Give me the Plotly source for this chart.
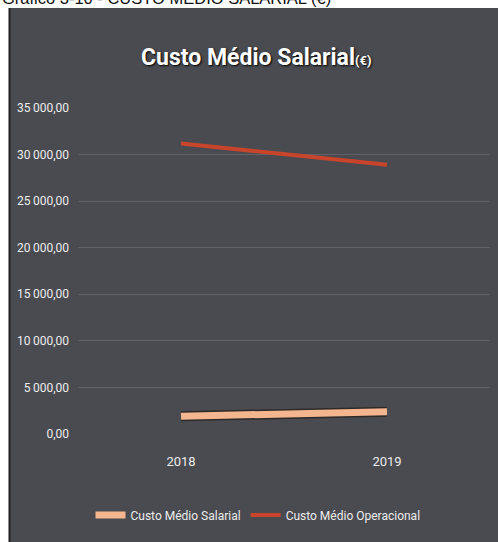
import plotly.graph_objects as go

# Data
years = ["2018", "2019"]
custo_salarial = [1900, 2400]
custo_operacional = [31200, 28900]
y_ticks = [0, 5000, 10000, 15000, 20000, 25000, 30000, 35000]

W, H = 498, 542
ML, MR, MT, MB = 78, 8, 108, 108
PW, PH = W - ML - MR, H - MT - MB


def px_x(p):
    return (p - ML) / PW


def px_y(p):
    return 1 - (p - MT) / PH


FONT = "Roboto, Liberation Sans Narrow, sans-serif"
TXT = "#ececec"
PANEL = "#4a4b51"

fig = go.Figure()

# dark edge under the salary line
fig.add_trace(go.Scatter(
    x=years, y=custo_salarial, mode="lines",
    line=dict(color="#2e2a28", width=10),
    showlegend=False, hoverinfo="skip",
))
fig.add_trace(go.Scatter(
    x=years, y=custo_salarial, mode="lines", name="Custo Médio Salarial",
    line=dict(color="#f3b68e", width=7),
))
fig.add_trace(go.Scatter(
    x=years, y=custo_operacional, mode="lines", name="Custo Médio Operacional",
    line=dict(color="#c8452c", width=4),
))

fig.update_layout(
    width=W, height=H,
    margin=dict(l=ML, r=MR, t=MT, b=MB),
    paper_bgcolor="white",
    plot_bgcolor="rgba(0,0,0,0)",
    separators=",\u2009",
    font=dict(family=FONT, color=TXT, size=12),
    showlegend=True,
    legend=dict(
        orientation="h", x=px_x(258), y=px_y(515),
        xanchor="center", yanchor="middle",
        font=dict(family=FONT, size=12, color=TXT),
        bgcolor="rgba(0,0,0,0)", itemwidth=30,
        traceorder="normal",
    ),
    shapes=[
        dict(type="rect", xref="paper", yref="paper",
             x0=px_x(9), x1=px_x(W + 2), y0=px_y(8), y1=px_y(H + 2),
             fillcolor=PANEL, line=dict(width=0), layer="below"),
        dict(type="line", xref="paper", yref="paper",
             x0=px_x(9.5), x1=px_x(9.5), y0=px_y(8), y1=px_y(H + 2),
             line=dict(color="#1e1e22", width=2), layer="below"),
    ],
    annotations=[
        dict(text="Gráfico 3-10 - CUSTO MÉDIO SALARIAL (€)",
             xref="paper", yref="paper", x=px_x(0), y=px_y(9),
             xanchor="left", yanchor="bottom", showarrow=False,
             font=dict(family="Liberation Sans, Arial, sans-serif", size=16.5, color="#111111")),
        dict(text="Custo Médio Salarial<span style='font-size:13px'>(€)</span>",
             xref="paper", yref="paper", x=px_x(256), y=px_y(57),
             xanchor="center", yanchor="middle", showarrow=False,
             font=dict(family=FONT, size=23, color="white", weight="bold",
                       shadow="1px 1px 2px #000")),
    ],
)

fig.update_xaxes(
    type="category", range=[-0.5, 1.5],
    showgrid=False, zeroline=False, showline=False,
    ticks="", ticklabelstandoff=18,
    tickfont=dict(family=FONT, size=13, color=TXT),
)
fig.update_yaxes(
    range=[0, 35000], tickvals=y_ticks, tickformat=",.2f",
    showgrid=True, gridcolor="rgba(255,255,255,0.13)", gridwidth=1,
    zeroline=False, showline=False, ticks="", ticklabelstandoff=8,
    tickfont=dict(family=FONT, size=12, color=TXT),
)

fig.write_html("out.html")
